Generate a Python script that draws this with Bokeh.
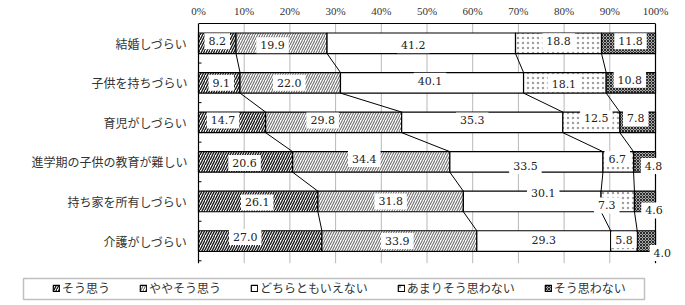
from bokeh.plotting import figure
from bokeh.models import Range1d, FixedTicker, ColumnDataSource, Legend, LegendItem
from bokeh.core.properties import value
from bokeh.embed import file_html
from bokeh.resources import INLINE

categories = ["結婚しづらい", "子供を持ちづらい", "育児がしづらい",
              "進学期の子供の教育が難しい", "持ち家を所有しづらい", "介護がしづらい"]
series_names = ["そう思う", "ややそう思う", "どちらともいえない", "あまりそう思わない", "そう思わない"]
s_soo = [8.2, 9.1, 14.7, 20.6, 26.1, 27.0]
s_yaya = [19.9, 22.0, 29.8, 34.4, 31.8, 33.9]
s_dochira = [41.2, 40.1, 35.3, 33.5, 30.1, 29.3]
s_amari = [18.8, 18.1, 12.5, 6.7, 7.3, 5.8]
s_nai = [11.8, 10.8, 7.8, 4.8, 4.6, 4.0]
x_ticks = [0, 10, 20, 30, 40, 50, 60, 70, 80, 90, 100]
x_tick_labels = ["0%", "10%", "20%", "30%", "40%", "50%", "60%", "70%", "80%", "90%", "100%"]

series = [s_soo, s_yaya, s_dochira, s_amari, s_nai]

# label nudges in screen pixels (dx, dy) per row / series
label_nudge = [
    [(0, -2), (-9, 2), (-8, 2), (0, -2), (2, -2)],
    [(2, 0), (-1, 0), (-2, -2), (-1, 1), (-1, -3)],
    [(-9, -2), (-11, -2), (-10, -2), (5, -4), (-2, -4)],
    [(-1, 1), (-7, -3), (-1, 4), (-1, -3), (9, 4)],
    [(-1, 1), (0, 0), (11, -8), (-11, 4), (9, 9)],
    [(-15, -4), (-2, 0), (0, -1), (0, -1), (16, 12)],
]

styles = [
    dict(fill_color="white", hatch_pattern="/", hatch_color="#1a1a1a", hatch_scale=5, hatch_weight=1.4),
    dict(fill_color="white", hatch_pattern="/", hatch_color="#707070", hatch_scale=5, hatch_weight=1.1),
    dict(fill_color="white"),
    dict(fill_color="white", hatch_pattern=".", hatch_color="#a0a0a0", hatch_scale=5, hatch_weight=0.8),
    dict(fill_color="#a8a8a8", hatch_pattern="x", hatch_color="#2a2a2a", hatch_scale=3, hatch_weight=1),
]

n = len(categories)
ys = list(range(n))
totals = [sum(s[i] for s in series) for i in range(n)]
cum = []
for i in range(n):
    row = [0.0]
    for s in series:
        row.append(row[-1] + s[i] / totals[i] * 100.0)
    cum.append(row)

bar_h = 0.52
W, H = 685, 305
frame_left_px, px_per_pct = 198, 4.57
top_px, px_per_row = 23, 39.55
x_lo = -frame_left_px / px_per_pct
x_hi = (W - frame_left_px) / px_per_pct
y_lo = -0.5 + (H - top_px) / px_per_row

p = figure(width=W, height=H, x_range=Range1d(x_lo, x_hi), y_range=Range1d(y_lo, -0.5),
           output_backend="svg", toolbar_location=None, x_axis_location="above",
           y_axis_location=None, min_border_left=0, min_border_right=0,
           min_border_top=top_px, min_border_bottom=0)
p.outline_line_color = None
p.background_fill_color = "white"
p.xgrid.visible = False
p.ygrid.visible = False

# top axis
p.xaxis.ticker = FixedTicker(ticks=x_ticks)
p.xaxis.bounds = (0, 100)
p.xaxis.major_label_overrides = {t: l for t, l in zip(x_ticks, x_tick_labels)}
p.xaxis.major_tick_in = 0
p.xaxis.major_tick_out = 0
p.xaxis.minor_tick_in = 0
p.xaxis.minor_tick_out = 0
p.xaxis.axis_line_color = "black"
p.xaxis.axis_line_width = 1.2
p.xaxis.major_label_standoff = 7
p.xaxis.major_label_text_font = "Liberation Serif"
p.xaxis.major_label_text_font_size = "11px"
p.xaxis.major_label_text_color = "#333333"

y_top, y_bot = -0.5, 5.56
grid_ticks = x_ticks[1:-1]
# vertical gridlines
p.segment(x0=grid_ticks, y0=[y_top] * len(grid_ticks), x1=grid_ticks, y1=[y_bot] * len(grid_ticks),
          line_color="#b8b8b8", line_width=1)
# left axis line, right border
p.segment(x0=[x_ticks[0], x_ticks[-1]], y0=[y_top, y_top], x1=[x_ticks[0], x_ticks[-1]],
          y1=[y_bot, y_bot], line_color="black", line_width=1.2)
# small inward ticks between categories
bounds_y = [i + 0.5 for i in range(n)]
p.ray(x=[x_ticks[0]] * len(bounds_y), y=bounds_y, length=3, length_units="screen", angle=0,
      line_color="black", line_width=1)

# category labels
p.text(x=[x_ticks[0]] * n, y=ys, text=categories, x_offset=-11, text_align="right",
       text_baseline="middle", text_font=value("Noto Sans CJK JP"), text_font_size="12px",
       text_color="#333333")

renderers = []
for j, s in enumerate(series):
    src = ColumnDataSource(dict(y=ys, left=[cum[i][j] for i in range(n)],
                                right=[cum[i][j + 1] for i in range(n)]))
    r = p.hbar(y="y", left="left", right="right", height=bar_h, source=src,
               line_color="black", line_width=1.2, **styles[j])
    renderers.append(r)

# connector lines between rows
x0s, y0s, x1s, y1s = [], [], [], []
for k in range(1, len(series)):
    for i in range(n - 1):
        x0s.append(cum[i][k]); y0s.append(i + bar_h / 2)
        x1s.append(cum[i + 1][k]); y1s.append(i + 1 - bar_h / 2)
p.segment(x0=x0s, y0=y0s, x1=x1s, y1=y1s, line_color="black", line_width=1)

# value labels
lx, ly, lt, dx, dy = [], [], [], [], []
for i in range(n):
    for j, s in enumerate(series):
        lx.append((cum[i][j] + cum[i][j + 1]) / 2)
        ly.append(i)
        lt.append(f"{s[i]:.1f}")
        dx.append(label_nudge[i][j][0])
        dy.append(label_nudge[i][j][1])
p.text(x=lx, y=ly, text=lt, x_offset=dx, y_offset=dy, text_align="center",
       text_baseline="middle", text_font=value("DejaVu Serif"), text_font_size="11px",
       text_color="#222222", background_fill_color="white", padding=4)

# legend frame (screen-pixel box converted to data space)
def px_x(v):
    return (v - frame_left_px) / px_per_pct

def px_y(v):
    return -0.5 + (v - top_px) / px_per_row

p.quad(left=[px_x(23)], right=[px_x(644)], top=[px_y(278)], bottom=[px_y(299)],
       fill_color="white", line_color="#c0c0c0", line_width=1.5)

legend = Legend(items=[LegendItem(label=nm, renderers=[r]) for nm, r in zip(series_names, renderers)],
                orientation="horizontal", location=(52, 9), spacing=29, padding=0,
                glyph_width=8, glyph_height=8, label_standoff=2, label_height=16,
                label_text_font="Noto Sans CJK JP", label_text_font_size="12px",
                label_text_color="#333333", border_line_color=None,
                background_fill_alpha=0, margin=0)
p.add_layout(legend, "center")

open("out.html", "w").write(file_html(p, INLINE))
